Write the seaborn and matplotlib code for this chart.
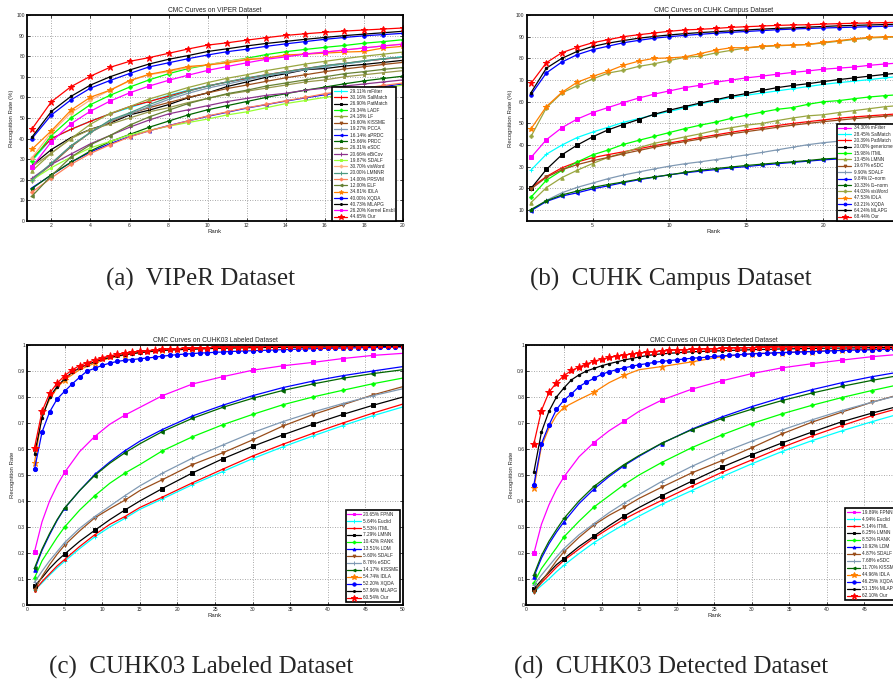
import matplotlib
matplotlib.use("Agg")
import matplotlib.pyplot as plt
import seaborn as sns

# ------------------------------------------------------------------ data
# (a) VIPeR, ranks 1..20, recognition rate (%)
ranks_a = list(range(1, 21))
viper_mFilter = [29.1, 40.0, 44.5, 48.5, 52.0, 55.0, 58.0, 61.0, 63.5, 65.5, 67.5, 69.0, 70.5, 72.0, 73.5, 75.0, 76.3, 77.5, 78.7, 79.8]
viper_SalMatch = [30.2, 40.0, 44.5, 48.4, 52.0, 55.5, 58.0, 60.6, 63.2, 65.5, 67.5, 69.2, 71.0, 72.5, 74.0, 75.3, 76.5, 77.6, 78.6, 79.5]
viper_PatMatch = [26.9, 34.7, 40.5, 44.5, 47.5, 51.5, 53.8, 56.5, 59.8, 62.2, 65.3, 67.5, 69.8, 71.5, 73.5, 74.0, 75.2, 76.0, 77.0, 78.0]
viper_LADF = [29.3, 41.5, 50.0, 56.5, 61.0, 65.0, 68.5, 71.5, 74.0, 75.8, 77.5, 79.0, 80.8, 82.2, 83.3, 84.3, 85.2, 86.3, 87.1, 88.0]
viper_LF = [24.2, 33.0, 40.0, 47.0, 52.2, 55.5, 59.2, 62.0, 64.8, 67.2, 69.3, 71.0, 73.0, 74.6, 76.2, 77.5, 78.8, 80.0, 81.0, 82.0]
viper_KISSME = [19.6, 27.5, 36.0, 43.0, 48.0, 52.0, 55.0, 57.5, 60.0, 62.2, 64.3, 66.0, 67.8, 69.5, 71.0, 72.5, 73.8, 74.9, 76.0, 77.0]
viper_PCCA = [19.3, 28.0, 36.5, 43.0, 48.5, 52.0, 55.5, 59.0, 62.0, 64.5, 66.5, 68.5, 70.5, 72.0, 73.5, 75.0, 76.3, 77.5, 78.7, 79.5]
viper_aPRDC = [16.1, 22.3, 28.5, 33.5, 37.5, 41.0, 43.8, 46.3, 48.6, 50.8, 52.8, 54.8, 56.5, 58.2, 59.8, 61.3, 62.7, 64.0, 65.3, 66.5]
viper_PRDC = [15.7, 22.5, 28.5, 34.0, 38.5, 42.0, 45.5, 48.5, 51.5, 54.0, 56.0, 58.0, 60.0, 61.8, 63.5, 65.0, 66.6, 68.0, 69.2, 70.3]
viper_eSDC = [26.3, 33.0, 40.0, 44.5, 47.0, 50.0, 53.0, 55.0, 57.5, 59.5, 61.5, 63.0, 64.5, 66.0, 67.5, 68.5, 70.0, 71.0, 72.0, 73.0]
viper_eBiCov = [20.7, 27.5, 32.5, 37.5, 41.5, 45.5, 49.0, 52.0, 54.0, 56.0, 58.0, 59.5, 61.0, 62.0, 63.5, 64.5, 65.5, 66.5, 67.5, 68.5]
viper_SDALF = [19.9, 25.9, 31.0, 35.5, 38.6, 41.8, 44.0, 46.0, 47.8, 49.5, 51.5, 53.0, 55.0, 57.0, 58.5, 60.0, 61.5, 63.0, 64.5, 66.0]
viper_visWord = [30.7, 43.0, 52.5, 58.8, 63.5, 68.0, 71.0, 72.5, 74.5, 75.8, 77.5, 78.8, 79.2, 80.0, 81.2, 82.0, 83.0, 84.0, 85.0, 86.0]
viper_LMNNR = [20.0, 28.0, 36.5, 43.0, 49.0, 52.5, 56.5, 60.0, 63.0, 65.5, 67.5, 69.5, 71.0, 72.5, 74.0, 75.5, 76.5, 77.8, 78.8, 79.5]
viper_PRSVM = [14.0, 20.9, 27.5, 32.8, 37.0, 40.8, 43.8, 46.2, 48.6, 51.0, 53.0, 55.0, 56.6, 58.4, 60.0, 61.8, 63.2, 64.5, 65.8, 67.0]
viper_ELF = [12.0, 22.0, 31.0, 37.0, 41.5, 46.5, 50.5, 53.8, 57.0, 59.5, 61.8, 63.5, 65.5, 67.0, 68.5, 70.0, 71.5, 72.5, 73.6, 74.5]
viper_IDLA = [34.8, 43.8, 53.8, 60.1, 63.5, 68.2, 71.2, 73.0, 75.0, 75.7, 76.8, 78.3, 79.0, 80.6, 81.0, 81.5, 82.0, 82.3, 84.0, 84.8]
viper_XQDA = [40.0, 51.5, 58.8, 64.5, 68.2, 71.6, 74.8, 76.8, 78.8, 80.6, 82.2, 83.4, 84.8, 86.0, 87.1, 88.2, 89.1, 89.9, 90.5, 91.1]
viper_MLAPG = [40.7, 53.2, 60.5, 66.0, 70.0, 73.3, 76.2, 78.5, 80.3, 82.3, 83.6, 85.0, 86.2, 87.2, 88.2, 89.1, 90.0, 90.7, 91.4, 92.1]
viper_Kernel = [26.2, 38.5, 47.2, 53.3, 58.2, 62.2, 65.5, 68.3, 70.8, 73.1, 75.0, 76.8, 78.5, 79.7, 81.0, 82.0, 83.0, 84.0, 85.0, 85.8]
viper_Our = [44.6, 57.9, 65.2, 70.3, 74.6, 77.5, 79.3, 81.4, 83.5, 85.4, 86.5, 87.8, 89.0, 90.1, 90.9, 91.6, 92.2, 92.7, 93.2, 93.7]
viper_labels = ["29.11% mFilter", "30.16% SalMatch", "26.90% PatMatch", "29.34% LADF", "24.18% LF",
                "19.60% KISSME", "19.27% PCCA", "16.14% aPRDC", "15.66% PRDC", "26.31% eSDC",
                "20.66% eBiCov", "19.87% SDALF", "30.70% visWord", "20.00% LMNNR", "14.00% PRSVM",
                "12.00% ELF", "34.81% IDLA", "40.00% XQDA", "40.73% MLAPG", "26.20% Kernel Ensbl", "44.65% Our"]

# (b) CUHK Campus, ranks 1..25
ranks_b = list(range(1, 26))
campus_mFilter = [34.3, 42.5, 48.0, 52.0, 55.0, 57.3, 59.6, 61.7, 63.5, 65.0, 66.5, 67.6, 69.0, 70.0, 71.0, 71.8, 72.7, 73.5, 74.2, 75.0, 75.5, 76.0, 76.8, 77.4, 77.9]
campus_SalMatch = [28.5, 35.8, 40.0, 43.5, 46.0, 48.2, 50.5, 52.2, 54.0, 55.5, 57.2, 59.0, 60.5, 62.0, 63.0, 64.0, 65.0, 66.0, 67.0, 68.0, 68.8, 69.5, 70.2, 71.0, 71.7]
campus_PatMatch = [20.4, 25.5, 29.5, 32.2, 34.2, 35.6, 36.9, 38.3, 39.7, 41.0, 42.2, 43.5, 44.7, 45.9, 47.0, 48.0, 49.0, 50.0, 50.8, 51.6, 52.4, 53.0, 53.5, 54.0, 54.5]
campus_generic = [20.0, 28.8, 35.5, 40.0, 43.8, 47.0, 49.5, 51.8, 54.2, 56.1, 57.8, 59.4, 60.9, 62.5, 63.8, 65.2, 66.5, 67.5, 68.3, 69.3, 70.2, 71.0, 71.8, 72.6, 73.3]
campus_ITML = [16.0, 23.8, 28.3, 32.2, 35.5, 37.7, 40.3, 42.2, 44.0, 45.8, 47.6, 49.2, 50.6, 52.3, 53.8, 55.2, 56.5, 57.3, 58.8, 60.0, 60.5, 61.4, 62.2, 62.8, 63.3]
campus_LMNN = [13.5, 20.4, 25.0, 28.4, 31.5, 34.3, 36.5, 38.8, 40.8, 42.3, 43.8, 45.2, 46.8, 48.0, 49.2, 50.0, 51.3, 52.5, 53.5, 54.0, 55.0, 55.9, 56.8, 57.7, 58.3]
campus_eSDC = [19.7, 25.2, 28.6, 31.0, 32.8, 34.3, 36.0, 37.5, 39.0, 40.4, 41.6, 42.8, 44.0, 45.2, 46.2, 47.2, 48.2, 49.2, 50.0, 50.8, 51.5, 52.2, 52.8, 53.3, 53.8]
campus_SDALF = [9.9, 14.5, 18.0, 20.5, 22.5, 24.5, 26.2, 27.6, 29.0, 30.3, 31.4, 32.3, 33.3, 34.4, 35.5, 36.6, 37.8, 39.0, 40.2, 41.1, 41.8, 42.5, 43.1, 43.7, 44.3]
campus_l2 = [9.8, 14.0, 16.5, 18.0, 19.8, 21.2, 22.7, 24.0, 25.2, 26.3, 27.2, 28.0, 28.7, 29.5, 30.1, 30.8, 31.4, 32.0, 32.6, 33.2, 33.6, 34.0, 34.4, 34.8, 35.2]
campus_l1 = [10.3, 14.3, 17.0, 18.8, 20.5, 21.8, 23.0, 24.3, 25.3, 26.3, 27.4, 28.4, 29.2, 29.9, 30.6, 31.2, 31.8, 32.3, 32.9, 33.6, 34.0, 34.4, 34.8, 35.2, 35.6]
campus_visWord = [44.0, 57.2, 64.0, 67.4, 70.5, 73.2, 74.5, 76.3, 77.5, 79.0, 80.5, 81.0, 82.5, 83.7, 84.8, 85.4, 85.8, 86.1, 86.4, 87.1, 87.9, 88.7, 89.4, 89.7, 89.9]
campus_IDLA = [47.5, 57.8, 64.3, 69.0, 71.7, 74.0, 76.8, 78.7, 80.0, 80.2, 80.7, 82.2, 83.8, 84.9, 84.9, 85.6, 86.0, 86.1, 86.4, 87.4, 88.2, 89.0, 89.7, 90.0, 90.0]
campus_XQDA = [63.2, 73.3, 78.3, 81.7, 84.0, 85.6, 87.2, 88.3, 89.3, 90.0, 90.6, 91.1, 91.6, 92.0, 92.4, 92.8, 93.2, 93.5, 93.8, 94.0, 94.2, 94.4, 94.6, 94.8, 95.0]
campus_MLAPG = [64.2, 75.5, 80.0, 83.2, 85.5, 87.0, 88.2, 89.3, 90.1, 90.8, 91.4, 91.9, 92.3, 92.7, 93.1, 93.5, 93.8, 94.1, 94.4, 94.7, 95.0, 95.2, 95.4, 95.6, 95.8]
campus_Our = [68.5, 78.0, 82.6, 85.1, 87.2, 88.6, 90.0, 90.9, 91.7, 92.5, 93.1, 93.4, 93.8, 94.3, 94.6, 94.9, 95.2, 95.4, 95.5, 95.8, 96.0, 96.2, 96.3, 96.5, 96.6]
campus_labels = ["34.30% mFilter", "28.45% SalMatch", "20.39% PatMatch", "20.00% genericmetric",
                 "15.98% ITML", "13.45% LMNN", "19.67% eSDC", "9.90% SDALF", "9.84% l2\u2212norm",
                 "10.33% l1\u2212norm", "44.03% visWord", "47.53% IDLA", "63.21% XQDA", "64.24% MLAPG", "68.44% Our"]

# (c)/(d) CUHK03: sparse curves read at these ranks, dense curves at every rank 1..50
ranks_sparse = [1, 2, 3, 4, 5, 7, 9, 11, 13, 15, 18, 22, 26, 30, 34, 38, 42, 46, 50]
marker_ranks = [1, 5, 9, 13, 18, 22, 26, 30, 34, 38, 42, 46]
ranks_dense = list(range(1, 51))

lab_FPNN = [0.205, 0.32, 0.40, 0.46, 0.51, 0.59, 0.648, 0.695, 0.73, 0.76, 0.805, 0.85, 0.878, 0.903, 0.92, 0.933, 0.948, 0.96, 0.968]
lab_Euclid = [0.0564, 0.085, 0.115, 0.143, 0.168, 0.217, 0.262, 0.30, 0.333, 0.368, 0.408, 0.463, 0.513, 0.563, 0.608, 0.65, 0.69, 0.728, 0.762]
lab_ITML = [0.0553, 0.09, 0.12, 0.15, 0.175, 0.225, 0.27, 0.31, 0.34, 0.375, 0.415, 0.47, 0.522, 0.573, 0.618, 0.66, 0.70, 0.738, 0.773]
lab_LMNN = [0.0729, 0.105, 0.14, 0.17, 0.196, 0.245, 0.287, 0.328, 0.365, 0.40, 0.448, 0.508, 0.562, 0.61, 0.654, 0.695, 0.733, 0.768, 0.80]
lab_RANK = [0.104, 0.17, 0.215, 0.26, 0.30, 0.365, 0.42, 0.468, 0.507, 0.54, 0.593, 0.647, 0.693, 0.733, 0.77, 0.80, 0.826, 0.851, 0.873]
lab_LDM = [0.135, 0.21, 0.27, 0.325, 0.372, 0.44, 0.502, 0.55, 0.593, 0.63, 0.675, 0.727, 0.768, 0.805, 0.836, 0.861, 0.882, 0.90, 0.917]
lab_SDALF = [0.056, 0.11, 0.155, 0.195, 0.23, 0.285, 0.335, 0.37, 0.403, 0.44, 0.482, 0.54, 0.585, 0.635, 0.688, 0.732, 0.77, 0.808, 0.84]
lab_eSDC = [0.0876, 0.13, 0.17, 0.205, 0.24, 0.295, 0.34, 0.38, 0.42, 0.458, 0.507, 0.565, 0.615, 0.663, 0.705, 0.742, 0.775, 0.805, 0.832]
lab_KISSME = [0.142, 0.215, 0.275, 0.328, 0.373, 0.44, 0.498, 0.545, 0.585, 0.62, 0.667, 0.718, 0.76, 0.795, 0.825, 0.85, 0.872, 0.89, 0.905]
lab_IDLA = [0.547, 0.73, 0.79, 0.835, 0.866, 0.905, 0.93, 0.95, 0.962, 0.97, 0.979, 0.985, 0.988, 0.99, 0.991, 0.992, 0.993, 0.994, 0.994]
lab_XQDA = [0.522, 0.665, 0.742, 0.792, 0.822, 0.850, 0.876, 0.900, 0.910, 0.922,
            0.930, 0.937, 0.941, 0.944, 0.947, 0.950, 0.953, 0.957, 0.960, 0.963,
            0.965, 0.967, 0.969, 0.970, 0.972, 0.973, 0.975, 0.976, 0.977, 0.978,
            0.979, 0.980, 0.981, 0.982, 0.983, 0.984, 0.985, 0.986, 0.987, 0.987,
            0.988, 0.988, 0.989, 0.989, 0.990, 0.990, 0.991, 0.991, 0.992, 0.992]
lab_MLAPG = [0.580, 0.720, 0.800, 0.840, 0.870, 0.895, 0.912, 0.925, 0.935, 0.945,
             0.952, 0.958, 0.963, 0.967, 0.971, 0.974, 0.977, 0.979, 0.981, 0.982,
             0.983, 0.984, 0.985, 0.986, 0.987, 0.988, 0.988, 0.989, 0.989, 0.990,
             0.990, 0.991, 0.991, 0.991, 0.992, 0.992, 0.992, 0.993, 0.993, 0.993,
             0.993, 0.994, 0.994, 0.994, 0.994, 0.995, 0.995, 0.995, 0.995, 0.995]
lab_Our = [0.605, 0.745, 0.814, 0.853, 0.882, 0.904, 0.921, 0.932, 0.942, 0.951,
           0.958, 0.964, 0.968, 0.972, 0.976, 0.978, 0.981, 0.983, 0.985, 0.986,
           0.987, 0.988, 0.989, 0.990, 0.991, 0.992, 0.992, 0.993, 0.993, 0.994,
           0.994, 0.995, 0.995, 0.995, 0.996, 0.996, 0.996, 0.997, 0.997, 0.997,
           0.997, 0.998, 0.998, 0.998, 0.998, 0.998, 0.999, 0.999, 0.999, 0.999]
lab_labels = ["20.65% FPNN", "5.64% Euclid", "5.53% ITML", "7.29% LMNN", "10.42% RANK", "13.51% LDM",
              "5.60% SDALF", "8.76% eSDC", "14.17% KISSME", "54.74% IDLA", "52.20% XQDA", "57.96% MLAPG", "60.54% Our"]

det_FPNN = [0.199, 0.31, 0.385, 0.445, 0.493, 0.57, 0.625, 0.67, 0.707, 0.745, 0.788, 0.83, 0.862, 0.89, 0.912, 0.928, 0.942, 0.955, 0.965]
det_Euclid = [0.0494, 0.075, 0.10, 0.128, 0.153, 0.198, 0.24, 0.276, 0.31, 0.342, 0.387, 0.44, 0.493, 0.543, 0.59, 0.632, 0.67, 0.705, 0.738]
det_ITML = [0.0514, 0.085, 0.115, 0.145, 0.172, 0.215, 0.258, 0.295, 0.33, 0.36, 0.402, 0.457, 0.51, 0.558, 0.606, 0.65, 0.69, 0.728, 0.76]
det_LMNN = [0.0625, 0.095, 0.125, 0.155, 0.178, 0.225, 0.265, 0.305, 0.342, 0.375, 0.42, 0.476, 0.53, 0.578, 0.623, 0.665, 0.705, 0.738, 0.768]
det_RANK = [0.085, 0.14, 0.18, 0.22, 0.262, 0.322, 0.377, 0.42, 0.463, 0.50, 0.548, 0.605, 0.654, 0.698, 0.735, 0.768, 0.798, 0.825, 0.85]
det_LDM = [0.109, 0.18, 0.235, 0.28, 0.32, 0.39, 0.446, 0.494, 0.536, 0.572, 0.621, 0.676, 0.723, 0.763, 0.798, 0.828, 0.855, 0.878, 0.898]
det_SDALF = [0.049, 0.09, 0.13, 0.17, 0.205, 0.26, 0.308, 0.345, 0.376, 0.41, 0.453, 0.508, 0.555, 0.605, 0.658, 0.703, 0.742, 0.78, 0.812]
det_eSDC = [0.077, 0.115, 0.15, 0.185, 0.217, 0.27, 0.313, 0.355, 0.392, 0.425, 0.475, 0.533, 0.585, 0.63, 0.673, 0.712, 0.748, 0.78, 0.81]
det_KISSME = [0.117, 0.19, 0.245, 0.29, 0.333, 0.40, 0.456, 0.50, 0.54, 0.575, 0.622, 0.674, 0.717, 0.753, 0.786, 0.815, 0.841, 0.864, 0.885]
det_IDLA = [0.449, 0.61, 0.68, 0.73, 0.76, 0.79, 0.818, 0.855, 0.883, 0.905, 0.917, 0.935, 0.955, 0.967, 0.97, 0.975, 0.98, 0.983, 0.987]
det_XQDA = [0.463, 0.620, 0.692, 0.752, 0.788, 0.812, 0.840, 0.857, 0.872, 0.887,
            0.897, 0.905, 0.912, 0.918, 0.924, 0.928, 0.933, 0.937, 0.940, 0.943,
            0.946, 0.949, 0.951, 0.953, 0.956, 0.958, 0.960, 0.962, 0.964, 0.966,
            0.967, 0.968, 0.970, 0.971, 0.972, 0.973, 0.974, 0.975, 0.976, 0.977,
            0.978, 0.979, 0.980, 0.981, 0.981, 0.982, 0.983, 0.983, 0.984, 0.984]
det_MLAPG = [0.512, 0.665, 0.745, 0.800, 0.835, 0.866, 0.885, 0.900, 0.910, 0.920,
             0.928, 0.935, 0.942, 0.948, 0.954, 0.959, 0.963, 0.966, 0.968, 0.970,
             0.972, 0.974, 0.975, 0.976, 0.977, 0.978, 0.979, 0.980, 0.981, 0.982,
             0.983, 0.983, 0.984, 0.985, 0.985, 0.986, 0.986, 0.987, 0.987, 0.988,
             0.988, 0.988, 0.989, 0.989, 0.989, 0.990, 0.990, 0.990, 0.991, 0.991]
det_Our = [0.621, 0.748, 0.818, 0.855, 0.882, 0.902, 0.915, 0.927, 0.938, 0.945,
           0.952, 0.957, 0.962, 0.965, 0.969, 0.972, 0.975, 0.977, 0.979, 0.981,
           0.982, 0.983, 0.984, 0.985, 0.986, 0.987, 0.988, 0.989, 0.990, 0.990,
           0.991, 0.991, 0.992, 0.992, 0.993, 0.993, 0.994, 0.994, 0.994, 0.995,
           0.995, 0.995, 0.996, 0.996, 0.996, 0.997, 0.997, 0.997, 0.998, 0.998]
det_labels = ["19.89% FPNN", "4.94% Euclid", "5.14% ITML", "6.25% LMNN", "8.52% RANK", "10.92% LDM",
              "4.87% SDALF", "7.68% eSDC", "11.70% KISSME", "44.96% IDLA", "46.25% XQDA", "51.15% MLAPG", "62.10% Our"]

titles = ["CMC Curves on VIPER Dataset", "CMC Curves on CUHK Campus Dataset",
          "CMC Curves on CUHK03 Labeled Dataset", "CMC Curves on CUHK03 Detected Dataset"]
captions = ["(a)  VIPeR Dataset", "(b)  CUHK Campus Dataset",
            "(c)  CUHK03 Labeled Dataset", "(d)  CUHK03 Detected Dataset"]

# ------------------------------------------------------------------ styles
OLIVE = (0.6, 0.65, 0.25)
BROWN = (0.6, 0.3, 0.1)
SLATE = (0.5, 0.6, 0.7)
DKGREEN = (0.0, 0.4, 0.0)
viper_styles = [("cyan", "+", 3), ("red", "+", 3), ("black", "s", 2), ((0, 1, 0), "P", 2.5), (OLIVE, "^", 2.5),
                (BROWN, "v", 2.5), (SLATE, "+", 3), ("blue", "<", 2.5), (DKGREEN, "*", 3), ((0.6, 0.6, 0.3), "s", 2),
                ((0.55, 0.2, 0.55), "+", 3), ((0.6, 1.0, 0.2), "s", 2), ((1.0, 0.7, 0.5), "P", 2.5), ((0.3, 0.6, 0.5), "+", 3),
                ((1.0, 0.5, 0.35), "P", 2.5), ((0.4, 0.5, 0.2), "<", 2.5), ((1.0, 0.5, 0.0), "*", 4), ("blue", "o", 2.5),
                ("black", ".", 3.5), ("magenta", "s", 2.2), ("red", "*", 5)]
campus_styles = [("magenta", "s", 2.2), ("cyan", "+", 3), ("red", "+", 3), ("black", "s", 2.2), ((0, 1, 0), "P", 2.5),
                 (OLIVE, "^", 2.5), (BROWN, "v", 2.5), (SLATE, "+", 3), ("blue", "<", 2.5), (DKGREEN, "*", 3),
                 (OLIVE, "P", 2.5), ((1.0, 0.5, 0.0), "*", 4), ("blue", "o", 2.5), ("black", ".", 3.5), ("red", "*", 5)]
cuhk03_styles = [("magenta", "s", 2.2), ("cyan", "+", 3), ("red", ".", 2.5), ("black", "s", 2.2), ((0, 1, 0), "P", 2.5),
                 ("blue", "^", 2.5), (BROWN, "v", 2.5), (SLATE, "+", 3), (DKGREEN, "<", 2.5),
                 ((1.0, 0.5, 0.0), "*", 5), ("blue", "o", 3), ("black", ".", 3.5), ("red", "*", 6)]

sns.set_theme(style="white")
plt.rcParams["font.family"] = ["Liberation Sans", "DejaVu Sans"]
plt.rcParams["axes.linewidth"] = 1.3

W, H = 893, 685
fig = plt.figure(figsize=(W / 100, H / 100), dpi=100)
fig.patch.set_facecolor("white")


def make_ax(left, right, top, bottom):
    return fig.add_axes([left / W, 1 - bottom / H, (right - left) / W, (bottom - top) / H])


def draw(ax, xs_list, ys_list, styles, labels, marker_sets):
    for xs, ys, (c, m, ms), lab, mk in zip(xs_list, ys_list, styles, labels, marker_sets):
        me = None if mk is None else [i for i, r in enumerate(xs) if r in mk]
        sns.lineplot(x=xs, y=ys, ax=ax, color=c, marker=m, markersize=ms, markevery=me,
                     markeredgecolor=c, markerfacecolor=c, markeredgewidth=0.7,
                     linewidth=0.9, label=lab, sort=False)


def finish(ax, title, ylabel, xlim, ylim, xticks, yticks, yticklabels):
    ax.set_xlim(*xlim)
    ax.set_ylim(*ylim)
    ax.set_xticks(xticks)
    ax.set_xticklabels([str(t) for t in xticks])
    ax.set_yticks(yticks)
    ax.set_yticklabels(yticklabels)
    ax.tick_params(direction="in", length=2.5, width=0.6, labelsize=3.6, pad=1.5,
                   top=True, right=True, bottom=True, left=True)
    ax.grid(True, linestyle=(0, (1, 2)), color="0.55", linewidth=0.6)
    ax.set_title(title, fontsize=4.8, pad=2.5)
    ax.set_xlabel("Rank", fontsize=4.3, labelpad=1)
    ax.set_ylabel(ylabel, fontsize=4.3, labelpad=2)
    for s in ax.spines.values():
        s.set_color("black")
        s.set_linewidth(1.3)


def legend(ax, fs, ls, anchor):
    leg = ax.legend(loc="lower right", bbox_to_anchor=anchor, fontsize=fs, frameon=True, fancybox=False,
                    framealpha=1, edgecolor="black", handlelength=2.8, handletextpad=0.5, labelspacing=ls,
                    borderpad=0.35, borderaxespad=0.0, markerscale=0.8)
    leg.get_frame().set_linewidth(1.2)


# (a)
ax_a = make_ax(27, 403, 15, 221)
viper_series = [viper_mFilter, viper_SalMatch, viper_PatMatch, viper_LADF, viper_LF, viper_KISSME, viper_PCCA,
                viper_aPRDC, viper_PRDC, viper_eSDC, viper_eBiCov, viper_SDALF, viper_visWord, viper_LMNNR,
                viper_PRSVM, viper_ELF, viper_IDLA, viper_XQDA, viper_MLAPG, viper_Kernel, viper_Our]
draw(ax_a, [ranks_a] * len(viper_series), viper_series, viper_styles, viper_labels, [None] * len(viper_series))
finish(ax_a, titles[0], "Recognition Rate (%)", (0.75, 20), (0, 100), list(range(2, 21, 2)),
       list(range(0, 101, 10)), [str(v) for v in range(0, 101, 10)])
legend(ax_a, 3.4, 0.27, (1 - 7 / 376, 0.0))

# (b)
ax_b = make_ax(526.7, 900.2, 15, 221)
campus_series = [campus_mFilter, campus_SalMatch, campus_PatMatch, campus_generic, campus_ITML, campus_LMNN,
                 campus_eSDC, campus_SDALF, campus_l2, campus_l1, campus_visWord, campus_IDLA, campus_XQDA,
                 campus_MLAPG, campus_Our]
draw(ax_b, [ranks_b] * len(campus_series), campus_series, campus_styles, campus_labels, [None] * len(campus_series))
finish(ax_b, titles[1], "Recognition Rate (%)", (0.72, 25), (5, 100), [5, 10, 15, 20, 25],
       list(range(10, 101, 10)), [str(v) for v in range(10, 101, 10)])
legend(ax_b, 3.3, 0.3, (1.0, 0.0))

# (c)
ax_c = make_ax(27, 403, 345, 605)
lab_series = [lab_FPNN, lab_Euclid, lab_ITML, lab_LMNN, lab_RANK, lab_LDM, lab_SDALF, lab_eSDC, lab_KISSME,
              lab_IDLA, lab_XQDA, lab_MLAPG, lab_Our]
xs_c = [ranks_sparse] * 10 + [ranks_dense] * 3
mk_c = [marker_ranks] * 10 + [None] * 3
draw(ax_c, xs_c, lab_series, cuhk03_styles, lab_labels, mk_c)
yt = [round(0.1 * i, 1) for i in range(11)]
ytl = ["0"] + [f"{v:.1f}" for v in yt[1:-1]] + ["1"]
finish(ax_c, titles[2], "Recognition Rate", (0, 50), (0, 1), list(range(0, 51, 5)), yt, ytl)
legend(ax_c, 3.4, 0.42, (1 - 3 / 376, 3 / 260))

# (d)
ax_d = make_ax(526.4, 902, 345, 605)
det_series = [det_FPNN, det_Euclid, det_ITML, det_LMNN, det_RANK, det_LDM, det_SDALF, det_eSDC, det_KISSME,
              det_IDLA, det_XQDA, det_MLAPG, det_Our]
draw(ax_d, xs_c, det_series, cuhk03_styles, det_labels, mk_c)
finish(ax_d, titles[3], "Recognition Rate", (0, 50), (0, 1), list(range(0, 51, 5)), yt, ytl)
legend(ax_d, 3.4, 0.42, (1 - 3 / 376, 5 / 260))

# captions
for (cx, cy), txt in zip([(200, 279), (671, 279), (201, 667), (671, 667)], captions):
    fig.text(cx / W, 1 - cy / H, txt, ha="center", va="center", fontsize=18,
             family=["Liberation Serif", "DejaVu Serif"])

fig.savefig("out.png", dpi=100)
